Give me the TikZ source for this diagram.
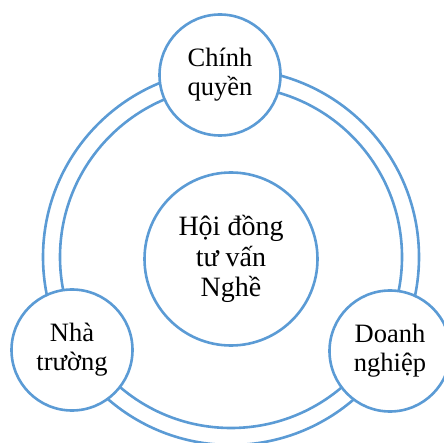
\documentclass[tikz,border=0pt]{standalone}
\usepackage{fontspec}
\setmainfont{Liberation Serif}
\usetikzlibrary{math}
\usetikzlibrary{positioning}

\definecolor{ringblue}{RGB}{91,155,213}

\tikzset{
  member/.style={circle, draw=ringblue, fill=white, line width=2.6pt,
    minimum size=121pt, inner sep=0pt, align=center,
    font=\fontsize{26.5}{29}\selectfont},
  council/.style={member, minimum size=173pt,
    font=\fontsize{28}{30.5}\selectfont},
}

\begin{document}
\begin{tikzpicture}[x=1pt,y=-1pt,line width=2.6pt]

  \tikzmath{
    \outerradius = 188; % radius of outer ring
    \innerradius = 171; % radius of inner ring
  }

  \useasboundingbox (0,0) rectangle (444,443);

  % centre of the two rings
  \coordinate (O) at (231,257);

  % double ring
  \draw[ringblue] (O) circle [radius=\outerradius];
  \draw[ringblue] (O) circle [radius=\innerradius];

  % the three partners
  \node[member] (gov)    at (220,75)  {Chính\\quyền};
  \node[member] (school) at (72,350)  {Nhà\\trường};
  \node[member] (firm)   at (390,351) {Doanh\\nghiệp};

  % the council in the middle
  \node[council] (council) at (231,259) {Hội đồng\\tư vấn\\Nghề};

\end{tikzpicture}
\end{document}
